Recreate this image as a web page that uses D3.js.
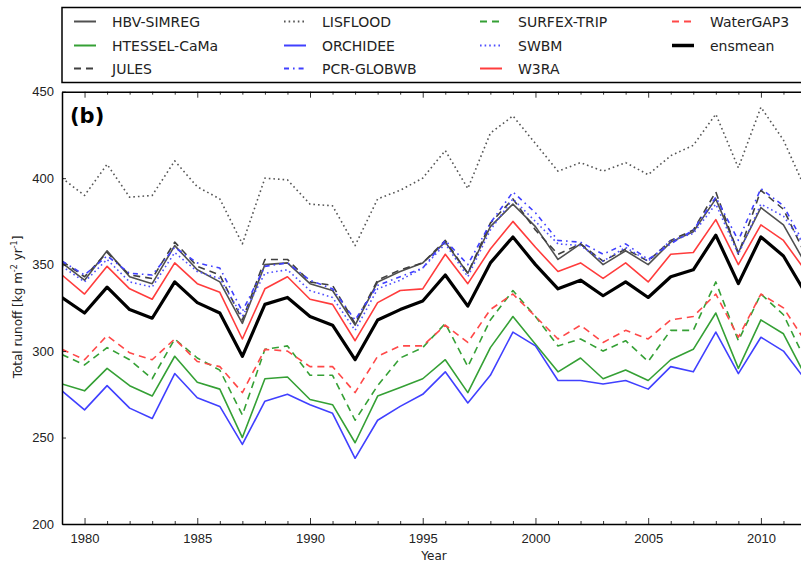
<!DOCTYPE html>
<html>
<head>
<meta charset="utf-8">
<script src="https://cdn.jsdelivr.net/npm/d3@7"></script>
<style>
  body { margin: 0; background: #fff; }
  svg { display: block; font-family: "DejaVu Sans", sans-serif; }
</style>
</head>
<body>
<svg id="chart" width="801" height="562"></svg>
<script>
// data
var years = [1979, 1980, 1981, 1982, 1983, 1984, 1985, 1986, 1987, 1988, 1989,
  1990, 1991, 1992, 1993, 1994, 1995, 1996, 1997, 1998, 1999, 2000,
  2001, 2002, 2003, 2004, 2005, 2006, 2007, 2008, 2009, 2010, 2011, 2012];

var hbvSimreg = [351, 341, 358, 343, 339, 361, 347, 340, 316, 350, 351, 339, 335, 315, 340, 346, 351, 363, 345, 372, 385, 372, 353, 362, 350, 358, 350, 363, 369, 388, 357, 383, 373, 350];
var htesselCama = [281, 277, 290, 280, 274, 297, 282, 278, 250, 284, 285, 272, 269, 247, 274, 279, 284, 295, 276, 302, 320, 304, 288, 296, 284, 289, 283, 295, 301, 322, 290, 318, 310, 285];
var jules = [352, 343, 357, 344, 342, 363, 349, 344, 318, 353, 353, 340, 338, 316, 341, 347, 351, 364, 345, 374, 388, 370, 356, 362, 352, 359, 352, 364, 370, 392, 356, 393, 382, 355];
var lisflood = [400, 390, 408, 389, 390, 410, 395, 388, 362, 400, 399, 385, 384, 361, 388, 393, 400, 416, 394, 426, 436, 420, 404, 409, 404, 409, 402, 413, 419, 437, 406, 441, 422, 393];
var orchidee = [277, 266, 280, 267, 261, 287, 273, 268, 246, 271, 275, 269, 264, 238, 260, 268, 275, 288, 270, 286, 311, 303, 283, 283, 281, 283, 278, 291, 288, 311, 287, 308, 300, 283];
var pcrGlobwb = [352, 344, 355, 345, 344, 360, 351, 348, 323, 349, 351, 341, 336, 318, 338, 343, 348, 364, 350, 374, 392, 380, 364, 363, 356, 362, 353, 362, 370, 389, 364, 394, 384, 360];
var surfexTrip = [298, 292, 302, 295, 284, 307, 296, 289, 263, 301, 303, 286, 286, 260, 280, 296, 302, 316, 291, 318, 335, 320, 303, 307, 300, 306, 294, 312, 312, 340, 306, 333, 321, 294];
var swbm = [349, 340, 353, 340, 337, 357, 346, 342, 320, 345, 347, 335, 331, 312, 336, 341, 348, 362, 343, 370, 388, 375, 362, 361, 352, 360, 352, 364, 368, 385, 356, 385, 378, 360];
var w3ra = [344, 333, 349, 336, 330, 351, 339, 334, 307, 336, 343, 330, 327, 306, 328, 335, 336, 356, 339, 359, 375, 360, 346, 351, 342, 351, 340, 356, 357, 376, 350, 373, 364, 346];
var waterGap3 = [301, 295, 309, 299, 295, 307, 294, 291, 276, 301, 300, 291, 291, 276, 297, 303, 303, 315, 305, 324, 333, 320, 307, 315, 305, 312, 307, 318, 320, 333, 308, 333, 325, 305];
var ensmean = [331, 322, 337, 324, 319, 340, 328, 322, 297, 327, 331, 320, 315, 295, 318, 324, 329, 344, 326, 351, 366, 350, 336, 341, 332, 340, 331, 343, 347, 367, 339, 366, 355, 333];

var yTicks = [200, 250, 300, 350, 400, 450];
var xTicks = [1980, 1985, 1990, 1995, 2000, 2005, 2010];

// styles per series
var series = [
  {name: "HBV-SIMREG", values: hbvSimreg, color: "#505050", dash: null, width: 1.6},
  {name: "HTESSEL-CaMa", values: htesselCama, color: "#35a035", dash: null, width: 1.6},
  {name: "JULES", values: jules, color: "#404040", dash: "7,5", width: 1.6},
  {name: "LISFLOOD", values: lisflood, color: "#555", dash: "1.6,3", width: 1.6},
  {name: "ORCHIDEE", values: orchidee, color: "#4040ff", dash: null, width: 1.6},
  {name: "PCR-GLOBWB", values: pcrGlobwb, color: "#4040ff", dash: "5,4,1.6,4", width: 1.6},
  {name: "SURFEX-TRIP", values: surfexTrip, color: "#35a035", dash: "7,5", width: 1.6},
  {name: "SWBM", values: swbm, color: "#5050ff", dash: "1.6,3", width: 1.6},
  {name: "W3RA", values: w3ra, color: "#ff3c3c", dash: null, width: 1.6},
  {name: "WaterGAP3", values: waterGap3, color: "#ff4848", dash: "7,5", width: 1.6},
  {name: "ensmean", values: ensmean, color: "#000", dash: null, width: 3.2}
];

var margin = {left: 62, top: 91.7, bottom: 524, right: 806};

var svg = d3.select("#chart");

var x = d3.scaleLinear().domain([1979, 2012]).range([margin.left, margin.right]);
var y = d3.scaleLinear().domain([200, 450]).range([margin.bottom, margin.top]);

svg.append("clipPath").attr("id", "plotclip")
  .append("rect")
  .attr("x", margin.left).attr("y", margin.top)
  .attr("width", margin.right - margin.left)
  .attr("height", margin.bottom - margin.top);

// lines
var line = d3.line()
  .x(function (d, i) { return x(years[i]); })
  .y(function (d) { return y(d); });

var plot = svg.append("g").attr("clip-path", "url(#plotclip)");
series.forEach(function (s) {
  plot.append("path")
    .attr("d", line(s.values))
    .attr("fill", "none")
    .attr("stroke", s.color)
    .attr("stroke-width", s.width)
    .attr("stroke-dasharray", s.dash)
    .attr("stroke-linejoin", "round");
});

// axes, ticks pointing inward
var minorYears = years.filter(function (yr) { return xTicks.indexOf(yr) < 0; });

var bottomAxis = d3.axisBottom(x).tickValues(xTicks).tickFormat(d3.format("d"))
  .tickSizeInner(-6).tickSizeOuter(0).tickPadding(10);
svg.append("g").attr("transform", "translate(0," + margin.bottom + ")").call(bottomAxis)
  .call(function (g) { g.selectAll("text").attr("font-size", 13).attr("fill", "#222"); });
svg.append("g").attr("transform", "translate(0," + margin.bottom + ")")
  .call(d3.axisBottom(x).tickValues(minorYears).tickFormat("").tickSizeInner(-3).tickSizeOuter(0))
  .call(function (g) { g.select(".domain").remove(); });

svg.append("g").attr("transform", "translate(0," + margin.top + ")")
  .call(d3.axisTop(x).tickValues(xTicks).tickFormat("").tickSizeInner(-6).tickSizeOuter(0));
svg.append("g").attr("transform", "translate(0," + margin.top + ")")
  .call(d3.axisTop(x).tickValues(minorYears).tickFormat("").tickSizeInner(-3).tickSizeOuter(0))
  .call(function (g) { g.select(".domain").remove(); });

svg.append("g").attr("transform", "translate(" + margin.left + ",0)")
  .call(d3.axisLeft(y).tickValues(yTicks).tickSizeInner(-4).tickSizeOuter(0).tickPadding(8))
  .call(function (g) { g.selectAll("text").attr("font-size", 13).attr("fill", "#222"); });

svg.selectAll(".domain").attr("stroke", "#000").attr("stroke-width", 1.5);
svg.selectAll(".tick line").attr("stroke", "#000").attr("stroke-width", 0.8);

// axis titles
svg.append("text")
  .attr("x", x(1995.5)).attr("y", 560)
  .attr("text-anchor", "middle").attr("font-size", 12).attr("fill", "#222")
  .text("Year");

var ylab = svg.append("text")
  .attr("transform", "translate(22," + 307 + ") rotate(-90)")
  .attr("text-anchor", "middle").attr("font-size", 12).attr("fill", "#222");
ylab.append("tspan").text("Total runoff [kg m");
ylab.append("tspan").attr("dy", -5).attr("font-size", 8).text("-2");
ylab.append("tspan").attr("dy", 5).text(" yr");
ylab.append("tspan").attr("dy", -5).attr("font-size", 8).text("-1");
ylab.append("tspan").attr("dy", 5).text("]");

svg.append("text")
  .attr("x", 70).attr("y", 123)
  .attr("font-size", 21).attr("font-weight", "bold")
  .text("(b)");

// legend
var legend = svg.append("g");
legend.append("rect")
  .attr("x", 62).attr("y", 7.5)
  .attr("width", 760).attr("height", 75)
  .attr("fill", "#fff").attr("stroke", "#000").attr("stroke-width", 1.5);

var colX = [74, 284, 480, 672];
var rowY = [21.5, 45.5, 68.5];
series.forEach(function (s, i) {
  var cx = colX[Math.floor(i / 3)];
  var cy = rowY[i % 3];
  legend.append("line")
    .attr("x1", cx).attr("x2", cx + 22)
    .attr("y1", cy).attr("y2", cy)
    .attr("stroke", s.color)
    .attr("stroke-width", s.name === "ensmean" ? 3.5 : 2)
    .attr("stroke-dasharray", s.dash);
  legend.append("text")
    .attr("x", cx + 38).attr("y", cy + 5)
    .attr("font-size", 14).attr("fill", "#222")
    .text(s.name);
});
</script>
</body>
</html>
